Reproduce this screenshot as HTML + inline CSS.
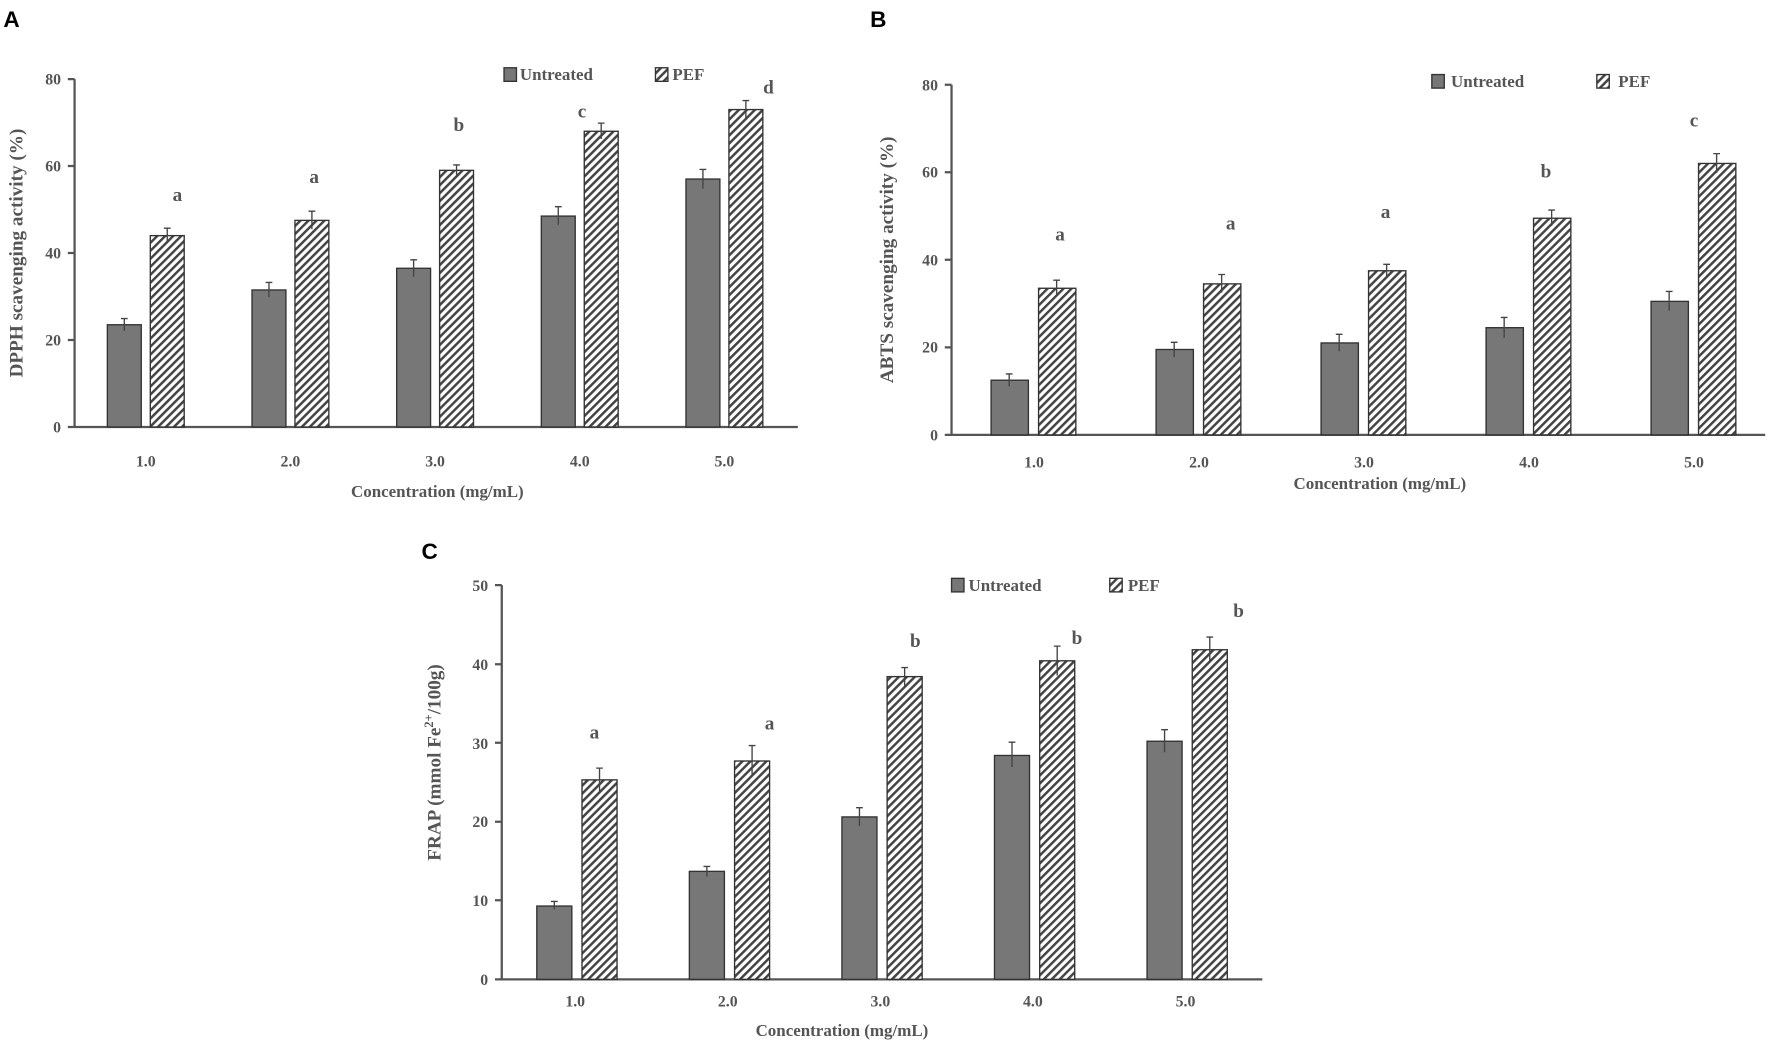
<!DOCTYPE html>
<html><head><meta charset="utf-8"><style>
html,body{margin:0;padding:0;background:#fff}
svg{display:block}
text{font-family:"Liberation Serif",serif;font-weight:bold;fill:#555}
.pl{font-family:"Liberation Sans",sans-serif;fill:#000;font-size:20px}
.u{fill:#777;stroke:#333;stroke-width:1.2}
.p{fill:url(#h);stroke:#333;stroke-width:1.2}
.ax{stroke:#555;stroke-width:2;fill:none}
.e{stroke:#444;stroke-width:1.2;fill:none}
</style></head><body>
<svg width="1772" height="1046" viewBox="0 0 1568 926" preserveAspectRatio="none" xmlns="http://www.w3.org/2000/svg">
<defs><pattern id="h" width="5" height="5" patternUnits="userSpaceOnUse" patternTransform="rotate(45)"><rect width="5" height="5" fill="#fff"/><rect width="2.2" height="5" fill="#444"/></pattern></defs>

<!-- Panel A -->
<text class="pl" x="3" y="24">A</text>
<path class="ax" d="M66 70V378H706M60 70H66M60 147H66M60 224H66M60 301H66M60 378H66"/>
<g font-size="14" text-anchor="end"><text x="54" y="75">80</text><text x="54" y="152">60</text><text x="54" y="229">40</text><text x="54" y="306">20</text><text x="54" y="383">0</text></g>
<g font-size="14" text-anchor="middle"><text x="129" y="413">1.0</text><text x="257" y="413">2.0</text><text x="385" y="413">3.0</text><text x="513" y="413">4.0</text><text x="641" y="413">5.0</text></g>
<text font-size="15" x="387" y="440" text-anchor="middle">Concentration (mg/mL)</text>
<text font-size="17" transform="translate(20,224) rotate(-90)" text-anchor="middle">DPPH scavenging activity (%)</text>
<rect class="u" x="446" y="60" width="11" height="12"/><text font-size="15" x="460" y="71">Untreated</text>
<rect class="p" x="580" y="60" width="11" height="12"/><text font-size="15" x="595" y="71">PEF</text>
<rect class="u" x="95" y="287.5" width="30" height="90.5"/><rect class="u" x="223" y="256.7" width="30" height="121.3"/><rect class="u" x="351" y="237.5" width="30" height="140.5"/><rect class="u" x="479" y="191.3" width="30" height="186.7"/><rect class="u" x="607" y="158.5" width="30" height="219.5"/>
<rect class="p" x="133" y="208.6" width="30" height="169.4"/><rect class="p" x="261" y="195.1" width="30" height="182.9"/><rect class="p" x="389" y="150.8" width="30" height="227.2"/><rect class="p" x="517" y="116.2" width="30" height="261.8"/><rect class="p" x="645" y="97" width="30" height="281"/>
<path class="e" d="M110 282v11M107 282h6M238 250v13M235 250h6M366 230v15M363 230h6M494 183v16M491 183h6M622 150v17M619 150h6M148 202v13M145 202h6M276 187v16M273 187h6M404 146v9M401 146h6M532 109v14M529 109h6M660 89v16M657 89h6"/>
<g font-size="17" text-anchor="middle"><text x="157" y="178">a</text><text x="278" y="162">a</text><text x="406" y="116">b</text><text x="515" y="104">c</text><text x="680" y="83">d</text></g>

<!-- Panel B -->
<text class="pl" x="770" y="24">B</text>
<path class="ax" d="M842 75V385H1562M836 75H842M836 152.5H842M836 230H842M836 307.5H842M836 385H842"/>
<g font-size="14" text-anchor="end"><text x="830" y="80">80</text><text x="830" y="157">60</text><text x="830" y="235">40</text><text x="830" y="312">20</text><text x="830" y="390">0</text></g>
<g font-size="14" text-anchor="middle"><text x="915" y="414">1.0</text><text x="1061" y="414">2.0</text><text x="1207" y="414">3.0</text><text x="1353" y="414">4.0</text><text x="1499" y="414">5.0</text></g>
<text font-size="15" x="1221" y="433" text-anchor="middle">Concentration (mg/mL)</text>
<text font-size="17" transform="translate(790,230) rotate(-90)" text-anchor="middle">ABTS scavenging activity (%)</text>
<rect class="u" x="1267" y="66" width="11" height="12"/><text font-size="15" x="1284" y="77">Untreated</text>
<rect class="p" x="1413" y="66" width="11" height="12"/><text font-size="15" x="1432" y="77">PEF</text>
<rect class="u" x="877" y="336.6" width="33" height="48.4"/><rect class="u" x="1023" y="309.4" width="33" height="75.6"/><rect class="u" x="1169" y="303.6" width="33" height="81.4"/><rect class="u" x="1315" y="290.1" width="33" height="94.9"/><rect class="u" x="1461" y="266.8" width="33" height="118.2"/>
<rect class="p" x="919" y="255.2" width="33" height="129.8"/><rect class="p" x="1065" y="251.3" width="33" height="133.7"/><rect class="p" x="1211" y="239.7" width="33" height="145.3"/><rect class="p" x="1357" y="193.2" width="33" height="191.8"/><rect class="p" x="1503" y="144.7" width="33" height="240.3"/>
<path class="e" d="M893 331v11M890 331h6M1039 303v13M1036 303h6M1185 296v15M1182 296h6M1331 281v18M1328 281h6M1477 258v17M1474 258h6M935 248v14M932 248h6M1081 243v16M1078 243h6M1227 234v11M1224 234h6M1373 186v14M1370 186h6M1519 136v17M1516 136h6"/>
<g font-size="17" text-anchor="middle"><text x="938" y="213">a</text><text x="1089" y="203">a</text><text x="1226" y="193">a</text><text x="1368" y="157">b</text><text x="1499" y="112">c</text></g>

<!-- Panel C -->
<text class="pl" x="373" y="495">C</text>
<path class="ax" d="M444 518V867H1117M438 518H444M438 588H444M438 657.5H444M438 727.5H444M438 797H444M438 867H444"/>
<g font-size="14" text-anchor="end"><text x="432" y="523">50</text><text x="432" y="593">40</text><text x="432" y="663">30</text><text x="432" y="732">20</text><text x="432" y="802">10</text><text x="432" y="872">0</text></g>
<g font-size="14" text-anchor="middle"><text x="509" y="891">1.0</text><text x="644" y="891">2.0</text><text x="779" y="891">3.0</text><text x="914" y="891">4.0</text><text x="1049" y="891">5.0</text></g>
<text font-size="15" x="745" y="917" text-anchor="middle">Concentration (mg/mL)</text>
<text font-size="17" transform="translate(390,675) rotate(-90)" text-anchor="middle">FRAP (mmol Fe<tspan font-size="11" dy="-7">2+</tspan><tspan dy="7">/100g)</tspan></text>
<rect class="u" x="842" y="512" width="11" height="12"/><text font-size="15" x="857" y="523">Untreated</text>
<rect class="p" x="982" y="512" width="11" height="12"/><text font-size="15" x="998" y="523">PEF</text>
<rect class="u" x="475" y="802.1" width="31" height="64.9"/><rect class="u" x="610" y="771.4" width="31" height="95.6"/><rect class="u" x="745" y="723.2" width="31" height="143.8"/><rect class="u" x="880" y="668.8" width="31" height="198.2"/><rect class="u" x="1015" y="656.2" width="31" height="210.8"/>
<rect class="p" x="515" y="690.4" width="31" height="176.6"/><rect class="p" x="650" y="673.7" width="31" height="193.3"/><rect class="p" x="785" y="599" width="31" height="268"/><rect class="p" x="920" y="585" width="31" height="282"/><rect class="p" x="1055" y="575.2" width="31" height="291.8"/>
<path class="e" d="M490.5 798v7M487.5 798h6M625.5 767v9M622.5 767h6M760.5 715v16M757.5 715h6M895.5 657v22M892.5 657h6M1030.5 646v20M1027.5 646h6M530.5 680v21M527.5 680h6M665.5 660v27M662.5 660h6M800.5 591v16M797.5 591h6M935.5 572v26M932.5 572h6M1070.5 564v22M1067.5 564h6"/>
<g font-size="17" text-anchor="middle"><text x="526" y="654">a</text><text x="681" y="646">a</text><text x="810" y="573">b</text><text x="953" y="570">b</text><text x="1096" y="546">b</text></g>
</svg>
</body></html>
